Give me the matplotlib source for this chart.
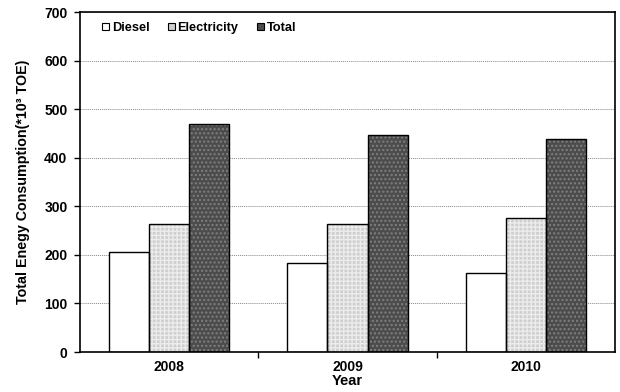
import matplotlib
matplotlib.use("Agg")
import matplotlib.pyplot as plt
import numpy as np

plt.rcParams['font.family'] = ['Liberation Sans', 'DejaVu Sans']
plt.rcParams['font.weight'] = 'bold'

years = ["2008", "2009", "2010"]
diesel = [205, 183, 163]
electricity = [263, 264, 275]
total = [469, 447, 438]

fig = plt.figure(figsize=(6.2, 3.92), dpi=100)
ax = fig.add_axes([0.129, 0.102, 0.863, 0.867])

x = np.arange(len(years))
w = 0.225
series = [
    ("Diesel", diesel, "white", None, "black"),
    ("Electricity", electricity, "#cfcfcf", "++++", "#ececec"),
    ("Total", total, "#4c4c4c", "....", "#808080"),
]
handles = []
for i, (name, vals, fc, hatch, hc) in enumerate(series):
    pos = x + (i - 1) * w
    # hatch layer, then outline on top
    ax.bar(pos, vals, w, color=fc, hatch=hatch, edgecolor=hc, linewidth=0, zorder=2)
    ax.bar(pos, vals, w, fill=False, edgecolor="black", linewidth=1.0, zorder=3)
    h = plt.Rectangle((0, 0), 1, 1, facecolor=fc, edgecolor="black", linewidth=0.8)
    handles.append(h)

ax.set_xlim(-0.5, 2.5)
ax.set_ylim(0, 700)
ax.set_yticks(range(0, 701, 100))
ax.set_xticks(x)
ax.set_xticklabels(years, fontsize=10, fontweight="bold")
ax.set_xticks([0.5, 1.5], minor=True)
ax.tick_params(axis="x", which="major", length=0, pad=6)
ax.tick_params(axis="x", which="minor", length=4, width=1, direction="out")
ax.tick_params(axis="y", length=4, width=1, direction="out", labelsize=10, pad=5)
for lab in ax.get_yticklabels():
    lab.set_fontweight("bold")

ax.yaxis.grid(True, linestyle=(0, (1, 1)), color="#888888", linewidth=0.7, zorder=0)
ax.set_axisbelow(True)
for s in ax.spines.values():
    s.set_linewidth(1.2)

ax.set_xlabel("Year", fontsize=10.5, fontweight="bold", labelpad=0)
ax.set_ylabel("Total Enegy Consumption(*10³ TOE)", fontsize=10.3, fontweight="bold", labelpad=10)

ax.legend(handles, [s[0] for s in series], ncol=3, frameon=False, loc="upper left",
          bbox_to_anchor=(0.02, 1.005), handlelength=0.55, handleheight=0.55,
          handletextpad=0.2, columnspacing=1.45, prop={"size": 9.2, "weight": "bold"})

fig.savefig("out.png", dpi=100)
